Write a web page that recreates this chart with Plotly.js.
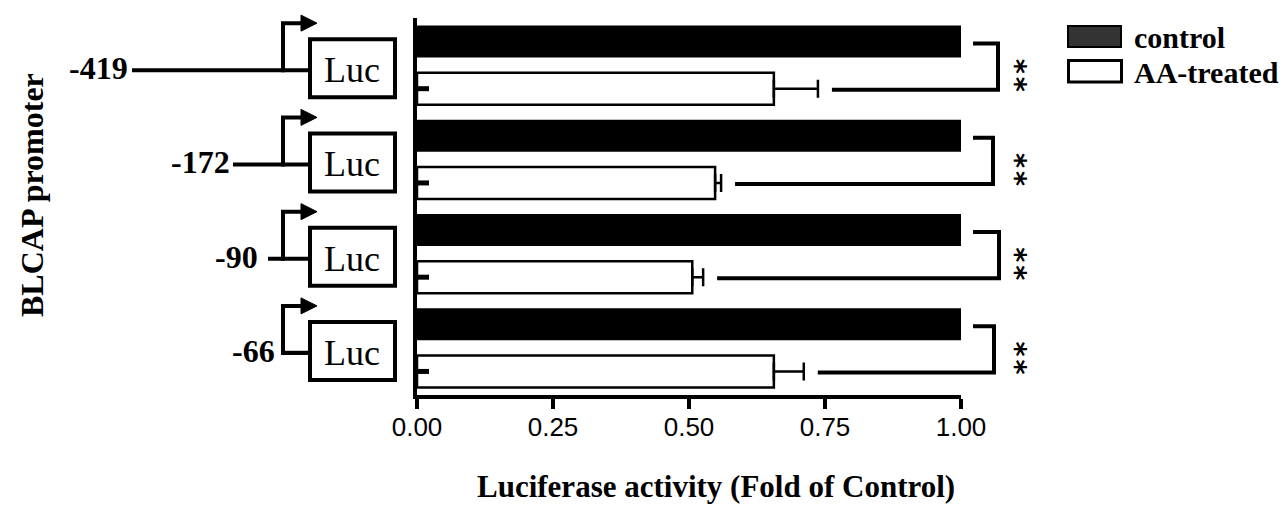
<!DOCTYPE html>
<html><head><meta charset="utf-8">
<script src="https://cdn.plot.ly/plotly-3.0.1.min.js"></script>
<style>html,body{margin:0;padding:0;background:#fff;}</style>
</head><body><div id="chart" style="width:1288px;height:506px;"></div>
<script>
// ---------------- data ----------------
const categories = ['-419', '-172', '-90', '-66'];
const seriesNames = ['control', 'AA-treated'];
const controlValues = [1.00, 1.00, 1.00, 1.00];
const treatedValues = [0.656, 0.548, 0.506, 0.656];
const treatedErrors = [0.081, 0.011, 0.020, 0.055];
const significance = ['**', '**', '**', '**'];
const xTickVals = [0, 0.25, 0.5, 0.75, 1];
const xTickText = ['0.00', '0.25', '0.50', '0.75', '1.00'];
const xTitle = 'Luciferase activity (Fold of Control)';
const yTitle = 'BLCAP promoter';
const boxLabel = 'Luc';

// ---------------- geometry (pixels of the page) ----------------
const L = 417, R = 961, T = 18, B = 395;
const fx = p => (p - L) / (R - L);
const fy = p => (B - p) / (B - T);
const band = (B - T) / categories.length;
const cc = i => T + (i + 0.5) * band;
const blackC = i => cc(i) - band / 4;
const whiteC = i => cc(i) + band / 4;

const labelRight = [128, 230, 258, 275];
const lineStart = [132, 233, 268, 283];
const bracketX = [998, 993, 999, 994];

const serif = 'Liberation Serif, Times New Roman, serif';
const sans = 'Liberation Sans, Arial, sans-serif';

const shapes = [];
const annotations = [];

categories.forEach((c, i) => {
  const mainY = cc(i) + 5, arrowY = cc(i) - 42, boxCY = cc(i) + 3;
  // promoter line
  if (lineStart[i] < 300) {
    shapes.push({type: 'path', xref: 'paper', yref: 'paper',
      path: `M ${fx(lineStart[i])},${fy(mainY)} L ${fx(308)},${fy(mainY)}`,
      line: {color: 'black', width: 4}});
  }
  if (i === categories.length - 1) {
    shapes.push({type: 'path', xref: 'paper', yref: 'paper',
      path: `M ${fx(308)},${fy(mainY)} L ${fx(283)},${fy(mainY)}`,
      line: {color: 'black', width: 4}});
  }
  // transcription start arrow
  shapes.push({type: 'path', xref: 'paper', yref: 'paper',
    path: `M ${fx(283)},${fy(mainY + 2)} L ${fx(283)},${fy(arrowY)} L ${fx(303)},${fy(arrowY)}`,
    line: {color: 'black', width: 4}});
  shapes.push({type: 'path', xref: 'paper', yref: 'paper',
    path: `M ${fx(301)},${fy(arrowY - 8)} L ${fx(317)},${fy(arrowY)} L ${fx(301)},${fy(arrowY + 8)} Z`,
    fillcolor: 'black', line: {color: 'black', width: 1}});
  // Luc box
  shapes.push({type: 'rect', xref: 'paper', yref: 'paper',
    x0: fx(310), x1: fx(395), y0: fy(boxCY + 29), y1: fy(boxCY - 29),
    fillcolor: 'white', line: {color: 'black', width: 4}});
  annotations.push({xref: 'paper', yref: 'paper', x: fx(352), y: fy(boxCY + 2),
    text: boxLabel, showarrow: false, xanchor: 'center', yanchor: 'middle',
    font: {family: serif, size: 36, color: 'black'}});
  // promoter label
  annotations.push({xref: 'paper', yref: 'paper', x: fx(labelRight[i] + 2), y: fy(mainY - 2),
    text: '<b>' + c + '</b>', showarrow: false, xanchor: 'right', yanchor: 'middle',
    font: {family: serif, size: 32, color: 'black'}});
  // stub near axis
  shapes.push({type: 'line', xref: 'paper', yref: 'paper',
    x0: fx(L), x1: fx(429), y0: fy(whiteC(i)), y1: fy(whiteC(i)),
    line: {color: 'black', width: 5}});
  // significance bracket
  const topY = blackC(i) + 2, botY = whiteC(i) + 1;
  const startX = treatedValues[i] + treatedErrors[i] + 14 / (R - L);
  shapes.push({type: 'path', xref: 'paper', yref: 'paper',
    path: `M ${fx(973)},${fy(topY)} L ${fx(bracketX[i])},${fy(topY)} L ${fx(bracketX[i])},${fy(botY)} L ${startX},${fy(botY)}`,
    line: {color: 'black', width: 4}});
  annotations.push({xref: 'paper', yref: 'paper', x: fx(1016), y: fy(whiteC(i) - 14),
    text: '<b>' + significance[i].split('').join('\u200A') + '</b>', showarrow: false,
    xanchor: 'center', yanchor: 'middle', textangle: 90,
    font: {family: 'DejaVu Sans, sans-serif', size: 29, color: 'black'}});
});

// legend
shapes.push({type: 'rect', xref: 'paper', yref: 'paper',
  x0: fx(1068), x1: fx(1121), y0: fy(47), y1: fy(26),
  fillcolor: '#333333', line: {color: 'black', width: 2}});
shapes.push({type: 'rect', xref: 'paper', yref: 'paper',
  x0: fx(1068.5), x1: fx(1121.5), y0: fy(82), y1: fy(60.5),
  fillcolor: 'white', line: {color: 'black', width: 3}});
annotations.push({xref: 'paper', yref: 'paper', x: fx(1132), y: fy(37),
  text: '<b>' + seriesNames[0] + '</b>', showarrow: false, xanchor: 'left', yanchor: 'middle',
  font: {family: serif, size: 30, color: 'black'}});
annotations.push({xref: 'paper', yref: 'paper', x: fx(1132), y: fy(72),
  text: '<b>' + seriesNames[1] + '</b>', showarrow: false, xanchor: 'left', yanchor: 'middle',
  font: {family: serif, size: 30, color: 'black'}});

// axis titles
annotations.push({xref: 'paper', yref: 'paper', x: fx(716), y: fy(486),
  text: '<b>' + xTitle + '</b>', showarrow: false, xanchor: 'center', yanchor: 'middle',
  font: {family: serif, size: 31, color: 'black'}});
annotations.push({xref: 'paper', yref: 'paper', x: fx(32), y: fy(195), textangle: -90,
  text: '<b>' + yTitle + '</b>', showarrow: false, xanchor: 'center', yanchor: 'middle',
  font: {family: serif, size: 32, color: 'black'}});

const traces = [
  {type: 'bar', orientation: 'h', name: seriesNames[0], y: categories, x: controlValues,
   marker: {color: 'black', line: {color: 'black', width: 0}}, hoverinfo: 'skip'},
  {type: 'bar', orientation: 'h', name: seriesNames[1], y: categories, x: treatedValues,
   marker: {color: 'white', line: {color: 'black', width: 2.5}},
   error_x: {type: 'data', symmetric: false, array: treatedErrors,
             arrayminus: treatedErrors.map(() => 0), color: 'black', thickness: 2.5, width: 9},
   hoverinfo: 'skip'}
];

const layout = {
  width: 1288, height: 506,
  margin: {l: L, r: 1288 - R, t: T, b: 506 - B, pad: 0},
  paper_bgcolor: 'white', plot_bgcolor: 'white',
  showlegend: false,
  barmode: 'group', bargap: 0, bargroupgap: 0.32,
  xaxis: {range: [0, 1], tickmode: 'array', tickvals: xTickVals, ticktext: xTickText,
          ticks: 'outside', ticklen: 10, tickwidth: 4, tickcolor: 'black', ticklabelstandoff: -4,
          showline: true, linewidth: 4, linecolor: 'black', showgrid: false, zeroline: false,
          tickfont: {family: sans, size: 26, color: 'black'}, fixedrange: true},
  yaxis: {type: 'category', categoryorder: 'array', categoryarray: categories,
          range: [3.5, -0.5], showticklabels: false, ticks: '',
          showline: true, linewidth: 4, linecolor: 'black', showgrid: false, zeroline: false,
          fixedrange: true},
  shapes: shapes,
  annotations: annotations
};

Plotly.newPlot('chart', traces, layout, {displayModeBar: false, staticPlot: true});
</script>
</body></html>
